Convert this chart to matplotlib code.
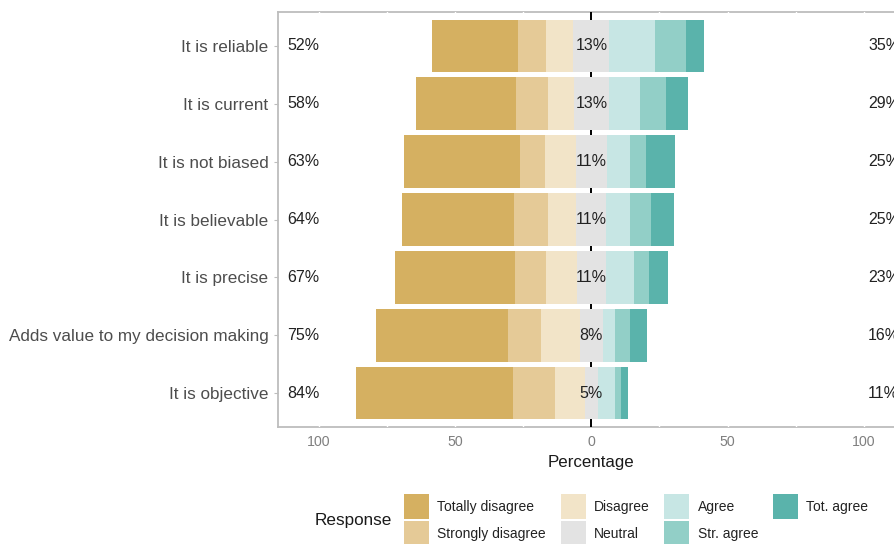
import matplotlib.pyplot as plt
from matplotlib.patches import Patch

plt.rcParams["font.family"] = ["Liberation Sans", "DejaVu Sans"]

# statements, top row first
items = ["It is reliable", "It is current", "It is not biased",
         "It is believable", "It is precise",
         "Adds value to my decision making", "It is objective"]

# share of answers (%) per response level
totally_disagree = [31.4, 37.0, 42.5, 41.0, 43.8, 48.5, 57.5]
strongly_disagree = [10.3, 11.5, 9.0, 12.5, 11.4, 11.8, 15.5]
disagree = [10.2, 9.5, 11.5, 10.5, 11.5, 14.5, 11.0]
neutral = [13.2, 13.0, 11.4, 11.0, 10.6, 8.3, 4.8]
agree = [16.8, 11.5, 8.5, 8.5, 10.3, 4.6, 6.3]
str_agree = [11.2, 9.5, 6.0, 8.0, 5.6, 5.5, 2.2]
tot_agree = [6.8, 8.0, 10.5, 8.5, 6.8, 6.3, 2.7]

levels = ["Totally disagree", "Strongly disagree", "Disagree", "Neutral",
          "Agree", "Str. agree", "Tot. agree"]
palette = ["#D5B061", "#E5CA97", "#F2E4C8", "#E3E3E3",
           "#C7E6E4", "#92CFC7", "#5AB3AB"]
series = [totally_disagree, strongly_disagree, disagree, neutral,
          agree, str_agree, tot_agree]

fig = plt.figure(figsize=(8.95, 5.44), dpi=100)
ax = fig.add_axes([278 / 895, 117 / 544, 626.75 / 895, 415 / 544])

ax.set_xlim(-115, 115)
ax.set_ylim(-0.58, len(items) - 1 + 0.58)

ypos = [len(items) - 1 - i for i in range(len(items))]

# zero line behind the bars, thin white grid breaks in the border
ax.axvline(0, color="black", lw=1.4, zorder=0.6)
for g in [-100, -75, -50, -25, 25, 50, 75, 100]:
    ax.axvline(g, color="white", lw=1.0, zorder=0.5)

for i, y in enumerate(ypos):
    low = totally_disagree[i] + strongly_disagree[i] + disagree[i]
    high = agree[i] + str_agree[i] + tot_agree[i]
    left = -(low + neutral[i] / 2)
    for vals, col in zip(series, palette):
        ax.barh(y, vals[i], left=left, height=0.9, color=col, lw=0,
                zorder=1)
        left += vals[i]
    ax.text(-111.5, y, f"{round(low)}%", ha="left", va="center",
            size=11.5, color="#222222", zorder=3)
    ax.text(0, y, f"{round(neutral[i])}%", ha="center", va="center",
            size=11.5, color="#222222", zorder=3)
    ax.text(101.5, y, f"{round(high)}%", ha="left", va="center",
            size=11.5, color="#222222", zorder=3)

ax.set_yticks(ypos)
ax.set_yticklabels(items, size=12.3, color="#4d4d4d")
ax.set_xticks([-100, -50, 0, 50, 100])
ax.set_xticklabels(["100", "50", "0", "50", "100"], size=10.2,
                   color="#7f7f7f")
ax.tick_params(axis="x", length=0, pad=6)
ax.tick_params(axis="y", length=3, color="#bdbdbd", pad=4)
ax.set_xlabel("Percentage", size=12.2, color="#1a1a1a", labelpad=4)

for s in ax.spines.values():
    s.set_color("#bdbdbd")
    s.set_linewidth(1.3)
    s.set_zorder(0.2)

handles = [Patch(facecolor=c, edgecolor="none") for c in palette]
fig.legend(handles, levels, ncol=4, loc="upper left",
           bbox_to_anchor=(404 / 895, 1 - 494 / 544), frameon=False,
           fontsize=10, handlelength=1.8, handleheight=2.39,
           handletextpad=0.6, columnspacing=1.05, labelspacing=0.15,
           borderpad=0, borderaxespad=0, labelcolor="#222222")
fig.text(315 / 895, 1 - 521 / 544, "Response", ha="left", va="center",
         size=12.3, color="#1a1a1a")

fig.savefig("out.png", dpi=100)
